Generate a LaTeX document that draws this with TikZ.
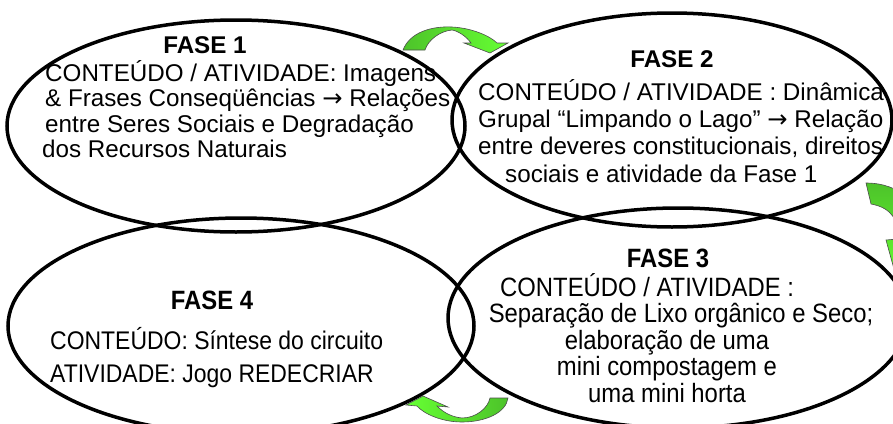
\documentclass[tikz,border=0pt]{standalone}
\usepackage{fontspec}
\setmainfont{Liberation Sans}
\newfontfamily\estreito[FakeStretch=0.9]{Liberation Sans}
\newfontfamily\simbolo{DejaVu Sans}
\usetikzlibrary{shapes.geometric}
\definecolor{setaescura}{RGB}{77,195,42}
\definecolor{setaclara}{RGB}{102,255,51}
\newcommand{\flecha}{{\simbolo →}}

\begin{document}
\begin{tikzpicture}[x=1pt, y=-1pt,
    fase/.style={draw, ellipse, line width=3.5pt, inner sep=0pt},
    titulo/.style={font=\bfseries\fontsize{24.2}{26}\selectfont, inner sep=0pt},
    linha/.style={font=\fontsize{24.2}{26}\selectfont, inner sep=0pt, anchor=base west},
    titulob/.style={font=\estreito\bfseries\fontsize{26.5}{28}\selectfont, inner sep=0pt},
    linhab/.style={font=\estreito\fontsize{26.5}{28}\selectfont, inner sep=0pt, anchor=base west},
    seta/.style={draw=black!70, line width=0.6pt}]
    \path[use as bounding box, clip] (0,0) rectangle (893,423);
        % as quatro fases
        \node[fase, minimum width=458pt, minimum height=212pt] (e1) at (236,126) {};
        \node[fase, minimum width=440pt, minimum height=214pt] (e2) at (672,120) {};
        \node[fase, minimum width=460pt, minimum height=220pt] (e3) at (678,318) {};
        \node[fase, minimum width=466pt, minimum height=216pt] (e4) at (241,326) {};
        % fase 1
        \node[titulo] (t1) at (205,45) {FASE 1};
        \node[linha] (l1a) at (45,81) {CONTEÚDO / ATIVIDADE: Imagens};
        \node[linha] (l1b) at (45,106.5) {\& Frases Conseqüências \flecha{} Relações};
        \node[linha] (l1c) at (45,132) {entre Seres Sociais e Degradação};
        \node[linha] (l1d) at (42,157) {dos Recursos Naturais};
        % fase 2
        \node[titulo] (t2) at (672,59) {FASE 2};
        \node[linha] (l2a) at (478,100) {CONTEÚDO / ATIVIDADE : Dinâmica};
        \node[linha] (l2b) at (478,127) {Grupal “Limpando o Lago” \flecha{} Relação};
        \node[linha] (l2c) at (478,154.5) {entre deveres constitucionais, direitos};
        \node[linha] (l2d) at (505,182) {sociais e atividade da Fase 1};
        % fase 3
        \node[titulob] (t3) at (668,258) {FASE 3};
        \node[linhab] (l3a) at (500,296) {CONTEÚDO / ATIVIDADE :};
        \node[linhab, anchor=base] (l3b) at (681,322) {Separação de Lixo orgânico e Seco;};
        \node[linhab, anchor=base] (l3c) at (667,349) {elaboração de uma};
        \node[linhab, anchor=base] (l3d) at (667,375.5) {mini compostagem e};
        \node[linhab, anchor=base] (l3e) at (667,402) {uma mini horta};
        % fase 4
        \node[titulob] (t4) at (212,300) {FASE 4};
        \node[linhab, font=\estreito\fontsize{25.5}{28}\selectfont] (l4a) at (50,349.5) {CONTEÚDO: Síntese do circuito};
        \node[linhab, font=\estreito\fontsize{25.5}{28}\selectfont] (l4b) at (50,382.5) {ATIVIDADE: Jogo REDECRIAR};
        % setas verdes
        \path[seta, left color=setaescura, right color=setaclara] (403,50) .. controls (410,32) and (432,26) .. (452,27)
            .. controls (472,28) and (490,36) .. (497,43) -- (508,43) -- (490,53) -- (464,43) -- (471,43)
            .. controls (466,36) and (458,31) .. (452,30) .. controls (440,31) and (428,40) .. (425,50) -- cycle;
        \path[seta, top color=setaescura, bottom color=setaclara] (866,183) .. controls (900,183) and (925,205) .. (922,238)
            -- (930,238) -- (897,280) -- (886,240) -- (898,239) .. controls (899,222) and (893,208) .. (871,204) -- cycle;
        \path[seta, left color=setaclara, right color=setaescura] (508,398) .. controls (506,413) and (485,422) .. (462,422)
            .. controls (442,422) and (424,414) .. (417,406) -- (406,405) -- (423,396) -- (448,407) -- (437,406)
            .. controls (444,413) and (452,417) .. (462,418) .. controls (476,418) and (488,408) .. (490,398) -- cycle;
    \end{tikzpicture}
\end{document}
